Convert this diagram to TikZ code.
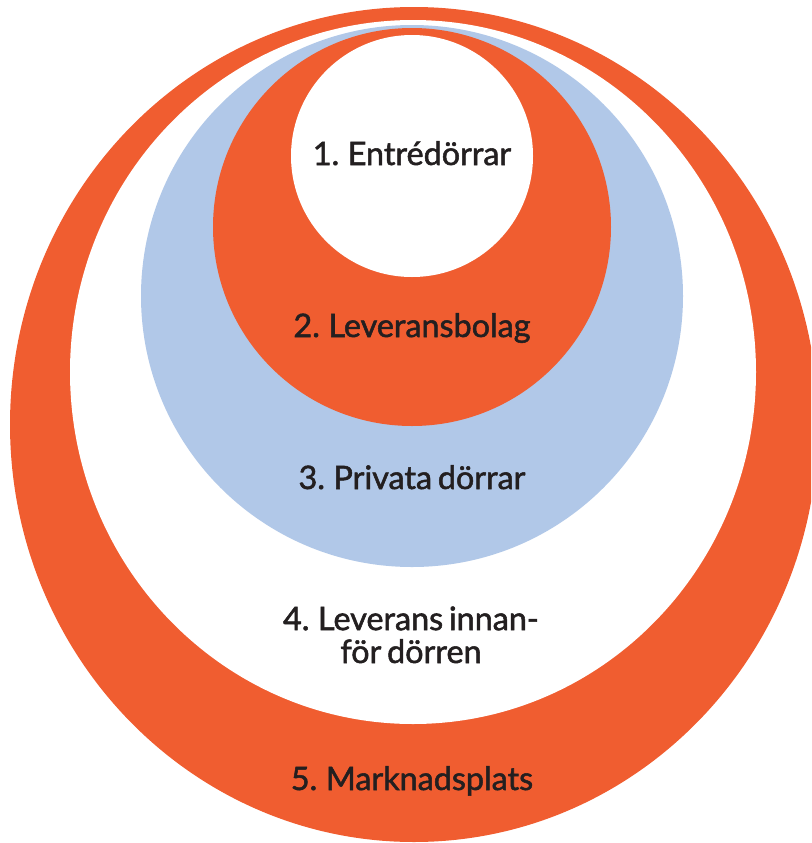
\documentclass[tikz,border=0pt]{standalone}
\usepackage{fontspec}
\setmainfont{Lato}[FakeBold=1.6, WordSpace=0.7]
\usepackage{xcolor}
\definecolor{rust}{RGB}{240,93,48}
\definecolor{sky}{RGB}{177,200,232}
\definecolor{ink}{RGB}{35,31,32}
\tikzset{tag/.style={text=ink, font=\fontsize{23}{23.4}\selectfont, anchor=base, align=center}}

\begin{document}
\begin{tikzpicture}[x=0.025cm, y=-0.025cm]
    \useasboundingbox (0,0) rectangle (811,843);
    \begin{scope}
        \clip (0,0) rectangle (811,843);
        % rings, outermost first
        \fill[rust] (414,424.5) ellipse [x radius=404, y radius=417.5];
        \fill[white] (413,372) ellipse [x radius=343, y radius=352];
        \fill[sky] (412,296) circle [radius=271];
        \fill[rust] (412,227) circle [radius=199];
        \fill[white] (412,156) circle [radius=121];
    \end{scope}

    \node[tag] (entre) at (412,165) {1. Entrédörrar};
    \node[tag] (bolag) at (412,337) {2. Leveransbolag};
    \node[tag] (privat) at (412,489) {3. Privata dörrar};
    \node[tag] (innan) at (411,663) {4. Leverans innan-\\för dörren};
    \node[tag] (marknad) at (412,790) {5. Marknadsplats};
\end{tikzpicture}
\end{document}
